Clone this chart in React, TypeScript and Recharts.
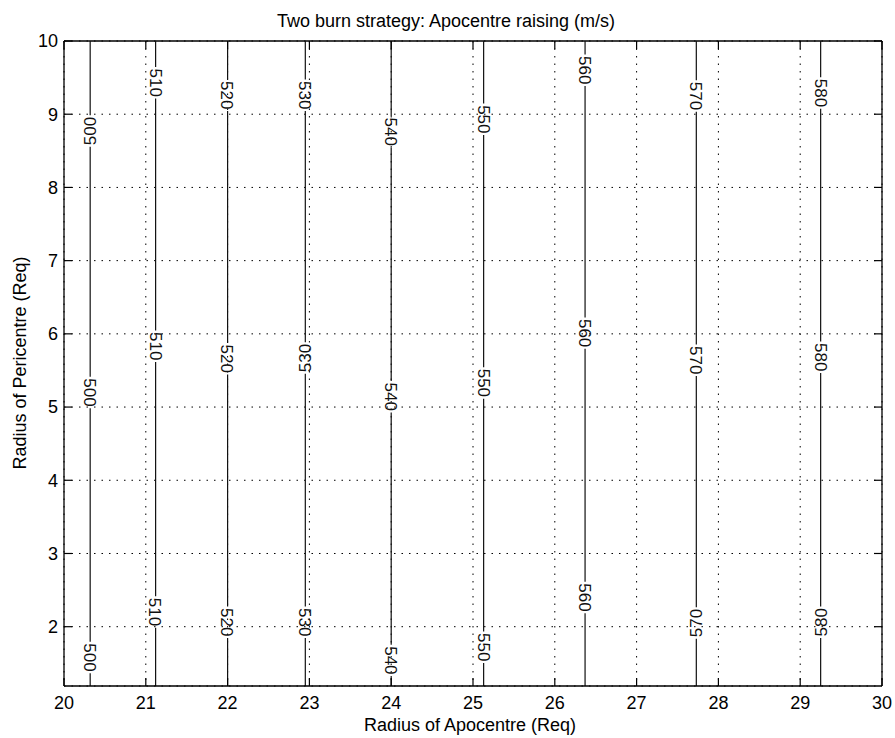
import React from 'react';
import { ComposedChart, Line, XAxis, YAxis, CartesianGrid, Scatter, ReferenceLine } from 'recharts';

const contourLevels = [500, 510, 520, 530, 540, 550, 560, 570, 580];
const contourX = [20.32, 21.12, 22.0, 22.95, 24.0, 25.13, 26.37, 27.73, 29.25];
const labelYTop = [8.77, 9.43, 9.26, 9.26, 8.76, 8.93, 9.6, 9.25, 9.29];
const labelYMid = [5.2, 5.83, 5.66, 5.67, 5.14, 5.33, 6.01, 5.64, 5.68];
const labelYBot = [1.58, 2.2, 2.06, 2.06, 1.54, 1.72, 2.4, 2.05, 2.06];
// reading direction of each label: 1 = top-to-bottom, -1 = bottom-to-top
const dirTop = [-1, 1, 1, 1, 1, 1, 1, 1, 1];
const dirMid = [1, 1, 1, -1, 1, 1, 1, 1, 1];
const dirBot = [1, 1, 1, 1, 1, 1, 1, -1, -1];
const xTicks = [20, 21, 22, 23, 24, 25, 26, 27, 28, 29, 30];
const yTicks = [2, 3, 4, 5, 6, 7, 8, 9, 10];
const xMin = 20;
const xMax = 30;
const yMin = 1.19;
const yMax = 10;

const W = 895;
const H = 738;
const M_TOP = 41;
const M_RIGHT = 13;
const Y_AXIS_W = 64;
const X_AXIS_H = 52;
const PLOT_TOP = M_TOP;
const PLOT_BOTTOM = H - X_AXIS_H;
const PLOT_LEFT = Y_AXIS_W;
const PLOT_RIGHT = W - M_RIGHT;
const TICK_LEN = 8;
const FONT = "'Liberation Sans', Arial, Helvetica, sans-serif";
const GAP = 0.215; // half label gap in data units

type Pt = { x: number; y: number | null };

const lineData: Pt[][] = contourLevels.map((_, i) => {
  const x = contourX[i];
  const ls = [labelYBot[i], labelYMid[i], labelYTop[i]].sort((a, b) => a - b);
  const pts: Pt[] = [];
  let start = yMin;
  ls.forEach((ly) => {
    pts.push({ x, y: start });
    pts.push({ x, y: ly - GAP });
    pts.push({ x, y: null });
    start = ly + GAP;
  });
  pts.push({ x, y: start });
  pts.push({ x, y: yMax });
  return pts;
});

const labelData = contourLevels.flatMap((lv, i) => [
  { x: contourX[i], y: labelYTop[i], v: lv, d: dirTop[i] },
  { x: contourX[i], y: labelYMid[i], v: lv, d: dirMid[i] },
  { x: contourX[i], y: labelYBot[i], v: lv, d: dirBot[i] },
]);

const LabelShape = (props: any) => {
  const { cx, cy, payload } = props;
  if (cx == null || cy == null) return <g />;
  const rot = payload.d === 1 ? 90 : -90;
  return (
    <text x={cx} y={cy} dy="0.36em" textAnchor="middle" transform={`rotate(${rot} ${cx} ${cy})`}
      fontFamily={FONT} fontSize={17} fill="#111">
      {payload.v}
    </text>
  );
};

const XTick = (props: any) => {
  const { x, y, payload } = props;
  return (
    <g>
      <line x1={x} x2={x} y1={PLOT_BOTTOM} y2={PLOT_BOTTOM - TICK_LEN} stroke="#000" strokeWidth={1.2} />
      <line x1={x} x2={x} y1={PLOT_TOP} y2={PLOT_TOP + TICK_LEN} stroke="#000" strokeWidth={1.2} />
      <text x={x} y={y} dy="0.71em" textAnchor="middle" fontFamily={FONT} fontSize={18} fill="#000">
        {payload.value}
      </text>
    </g>
  );
};

const YTick = (props: any) => {
  const { x, y, payload } = props;
  return (
    <g>
      <line x1={PLOT_LEFT} x2={PLOT_LEFT + TICK_LEN} y1={y} y2={y} stroke="#000" strokeWidth={1.2} />
      <line x1={PLOT_RIGHT} x2={PLOT_RIGHT - TICK_LEN} y1={y} y2={y} stroke="#000" strokeWidth={1.2} />
      <text x={x} y={y} dy="0.355em" textAnchor="end" fontFamily={FONT} fontSize={18} fill="#000">
        {payload.value}
      </text>
    </g>
  );
};

export default function App() {
  return (
    <div style={{ position: 'absolute', left: 0, top: 0, width: W, height: H, background: '#fff' }}>
      <ComposedChart width={W} height={H} margin={{ top: M_TOP, right: M_RIGHT, bottom: 0, left: 0 }}>
        <CartesianGrid stroke="#000" strokeDasharray="1.5 6" strokeWidth={1} />
        <XAxis type="number" dataKey="x" domain={[xMin, xMax]} ticks={xTicks} allowDataOverflow
          height={X_AXIS_H} tickSize={0} tickMargin={10} tickLine={false} stroke="#000" strokeWidth={1.3}
          tick={<XTick />} interval={0} />
        <YAxis type="number" dataKey="y" domain={[yMin, yMax]} ticks={yTicks} allowDataOverflow
          width={Y_AXIS_W} tickSize={0} tickMargin={6} tickLine={false} stroke="#000" strokeWidth={1.3}
          tick={<YTick />} interval={0} />
        <ReferenceLine y={yMax} stroke="#000" strokeWidth={1.3} ifOverflow="visible" />
        <ReferenceLine x={xMax} stroke="#000" strokeWidth={1.3} ifOverflow="visible" />
        {lineData.map((d, i) => (
          <Line key={contourLevels[i]} data={d} dataKey="y" stroke="#111" strokeWidth={1.2}
            dot={false} activeDot={false} connectNulls={false} isAnimationActive={false} />
        ))}
        <Scatter data={labelData} dataKey="y" shape={LabelShape} isAnimationActive={false} />
      </ComposedChart>
      <svg width={W} height={H} style={{ position: 'absolute', left: 0, top: 0, pointerEvents: 'none' }}>
        <text x={446} y={26.5} textAnchor="middle" fontFamily={FONT} fontSize={18} fill="#000">
          Two burn strategy: Apocentre raising (m/s)
        </text>
        <text x={470} y={731} textAnchor="middle" fontFamily={FONT} fontSize={18} fill="#000">
          Radius of Apocentre (Req)
        </text>
        <text x={26} y={363} textAnchor="middle" transform="rotate(-90 26 363)" fontFamily={FONT}
          fontSize={18} fill="#000">
          Radius of Pericentre (Req)
        </text>
      </svg>
    </div>
  );
}
